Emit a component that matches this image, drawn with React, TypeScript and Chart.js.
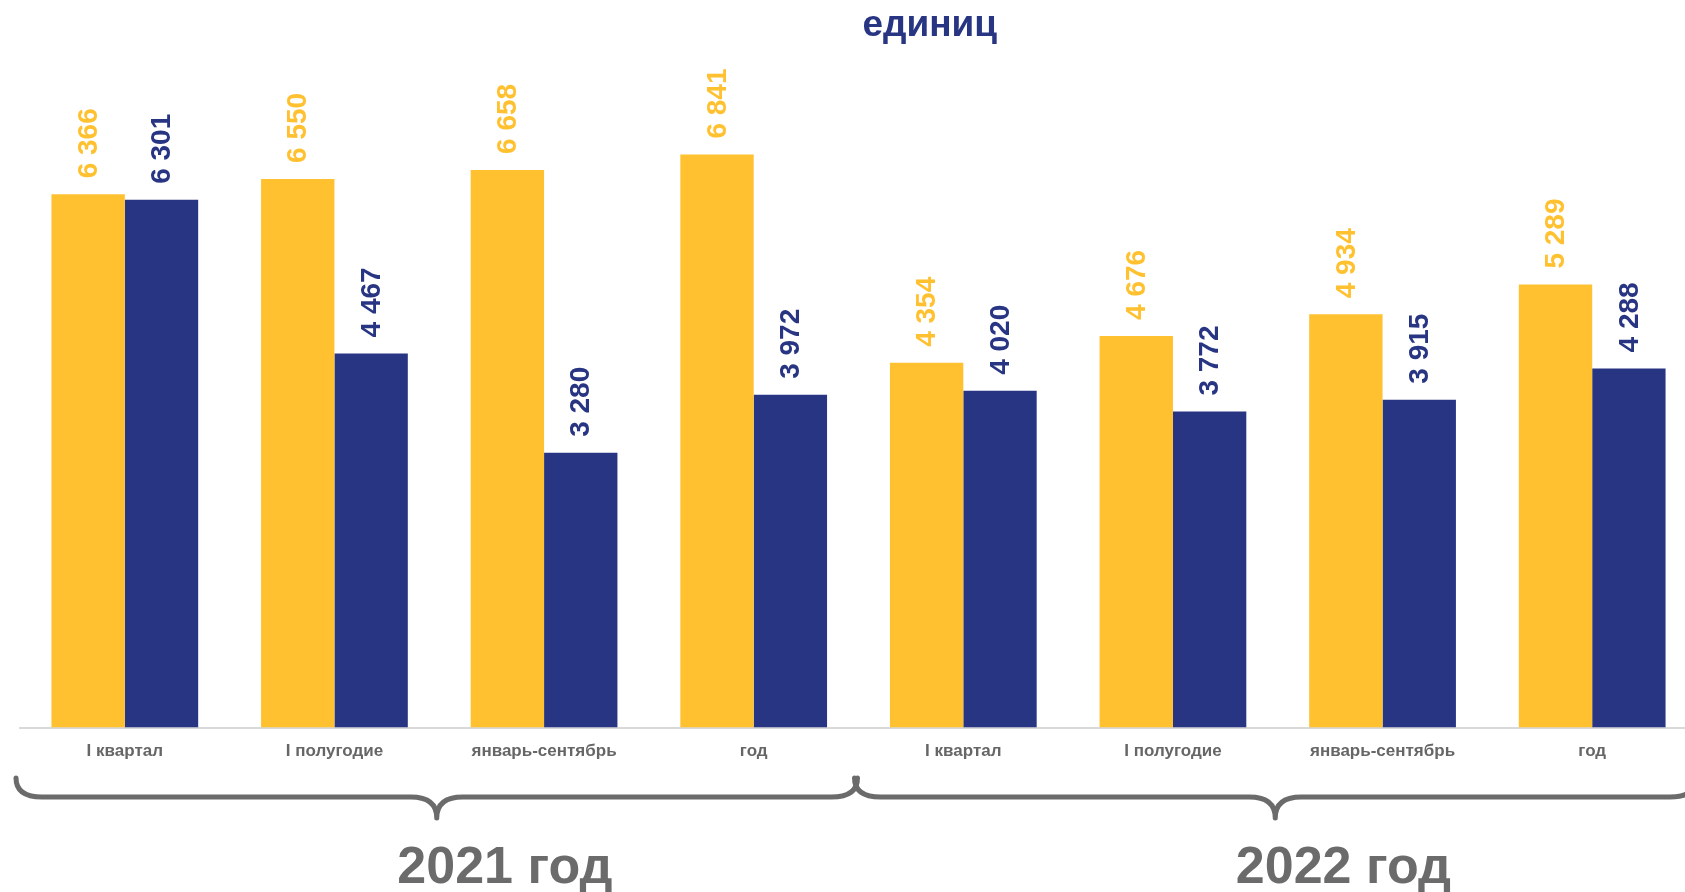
import React, { useEffect, useRef } from 'react';
import { Chart, registerables } from 'chart.js';

Chart.register(...registerables);

const categories = [
  'I квартал', 'I полугодие', 'январь-сентябрь', 'год',
  'I квартал', 'I полугодие', 'январь-сентябрь', 'год',
];
const seriesYellow = [6366, 6550, 6658, 6841, 4354, 4676, 4934, 5289];
const seriesBlue = [6301, 4467, 3280, 3972, 4020, 3772, 3915, 4288];
const yearLabels = ['2021 год', '2022 год'];
const groupSize = 4;
const titleText = 'единиц';

const YELLOW = '#FFC12F';
const BLUE = '#283583';
const GREY = '#6b6b6b';
const SANS = '"Liberation Sans", Arial, sans-serif';

const fmt = (v: number) => String(v).replace(/\B(?=(\d{3})+(?!\d))/g, ' ');

const titlePlugin = {
  id: 'unitTitle',
  afterDraw(chart: any) {
    const ctx = chart.ctx;
    const x = chart.scales.x;
    const catW = x.getPixelForValue(1) - x.getPixelForValue(0);
    ctx.save();
    ctx.font = `bold 37px ${SANS}`;
    ctx.fillStyle = BLUE;
    ctx.textAlign = 'center';
    ctx.textBaseline = 'middle';
    ctx.fillText(titleText, (x.getPixelForValue(3) + x.getPixelForValue(4)) / 2 + catW * 0.34, 26);
    ctx.restore();
  },
};

const valueLabelPlugin = {
  id: 'valueLabels',
  afterDatasetsDraw(chart: any) {
    const ctx = chart.ctx;
    chart.data.datasets.forEach((ds: any, di: number) => {
      const meta = chart.getDatasetMeta(di);
      meta.data.forEach((el: any, i: number) => {
        ctx.save();
        ctx.translate(el.x, el.y - 16);
        ctx.rotate(-Math.PI / 2);
        ctx.font = `bold 28px ${SANS}`;
        ctx.fillStyle = ds.backgroundColor;
        ctx.textAlign = 'left';
        ctx.textBaseline = 'middle';
        ctx.fillText(fmt(ds.data[i]), 0, 1);
        ctx.restore();
      });
    });
  },
};

const bracePlugin = {
  id: 'braces',
  afterDraw(chart: any) {
    const x = chart.scales.x;
    const ctx = chart.ctx;
    const catW = x.getPixelForValue(1) - x.getPixelForValue(0);
    const top = x.top + 50.5;
    const mid = x.top + 69.5;
    const bot = x.top + 90.5;
    const r = 26;
    yearLabels.forEach((lab, g) => {
      const i0 = g * groupSize;
      const i1 = g * groupSize + groupSize - 1;
      const x0 = x.getPixelForValue(i0) - catW / 2 - 4;
      const x1 = x.getPixelForValue(i1) + catW / 2 - 1;
      const cx = (x0 + x1) / 2;
      ctx.save();
      ctx.strokeStyle = GREY;
      ctx.lineWidth = 5;
      ctx.lineCap = 'round';
      ctx.lineJoin = 'round';
      ctx.beginPath();
      ctx.moveTo(x0, top);
      ctx.quadraticCurveTo(x0, mid, x0 + r, mid);
      ctx.lineTo(cx - r, mid);
      ctx.quadraticCurveTo(cx, mid, cx, bot);
      ctx.quadraticCurveTo(cx, mid, cx + r, mid);
      ctx.lineTo(x1 - r, mid);
      ctx.quadraticCurveTo(x1, mid, x1, top);
      ctx.stroke();
      ctx.fillStyle = GREY;
      ctx.font = `bold 52px ${SANS}`;
      ctx.textAlign = 'center';
      ctx.textBaseline = 'middle';
      ctx.fillText(lab, cx + catW * 0.325, x.top + 141);
      ctx.restore();
    });
  },
};

export default function App() {
  const ref = useRef<HTMLCanvasElement | null>(null);
  useEffect(() => {
    if (!ref.current) return;
    const chart = new Chart(ref.current, {
      type: 'bar',
      data: {
        labels: categories,
        datasets: [
          { label: 'ряд 1', data: seriesYellow, backgroundColor: YELLOW, borderWidth: 0 },
          { label: 'ряд 2', data: seriesBlue, backgroundColor: BLUE, borderWidth: 0 },
        ],
      },
      options: {
        responsive: false,
        animation: false,
        devicePixelRatio: 1,
        layout: { padding: { left: 20, right: 0, top: 59.2, bottom: 0 } },
        datasets: { bar: { categoryPercentage: 0.7, barPercentage: 1 } },
        plugins: {
          legend: { display: false },
          tooltip: { enabled: false },
          title: { display: false },
        },
        scales: {
          x: {
            grid: { display: false, drawTicks: false },
            border: { display: true, color: '#d9d9d9', width: 2 },
            ticks: {
              color: '#666666',
              font: { family: SANS, size: 17, weight: 'bold' },
              padding: 14,
              maxRotation: 0,
              autoSkip: false,
            },
            afterFit: (s: any) => { s.height = 164.5; },
          },
          y: {
            display: false,
            min: 0,
            max: 7980,
          },
        },
      },
      plugins: [valueLabelPlugin, bracePlugin, titlePlugin],
    });
    return () => chart.destroy();
  }, []);
  return (
    <div style={{ position: 'fixed', left: 0, top: 0, width: 1685, height: 892, overflow: 'hidden', background: '#ffffff' }}>
      <canvas ref={ref} width={1697} height={892} style={{ display: 'block', width: 1697, height: 892 }} />
    </div>
  );
}
